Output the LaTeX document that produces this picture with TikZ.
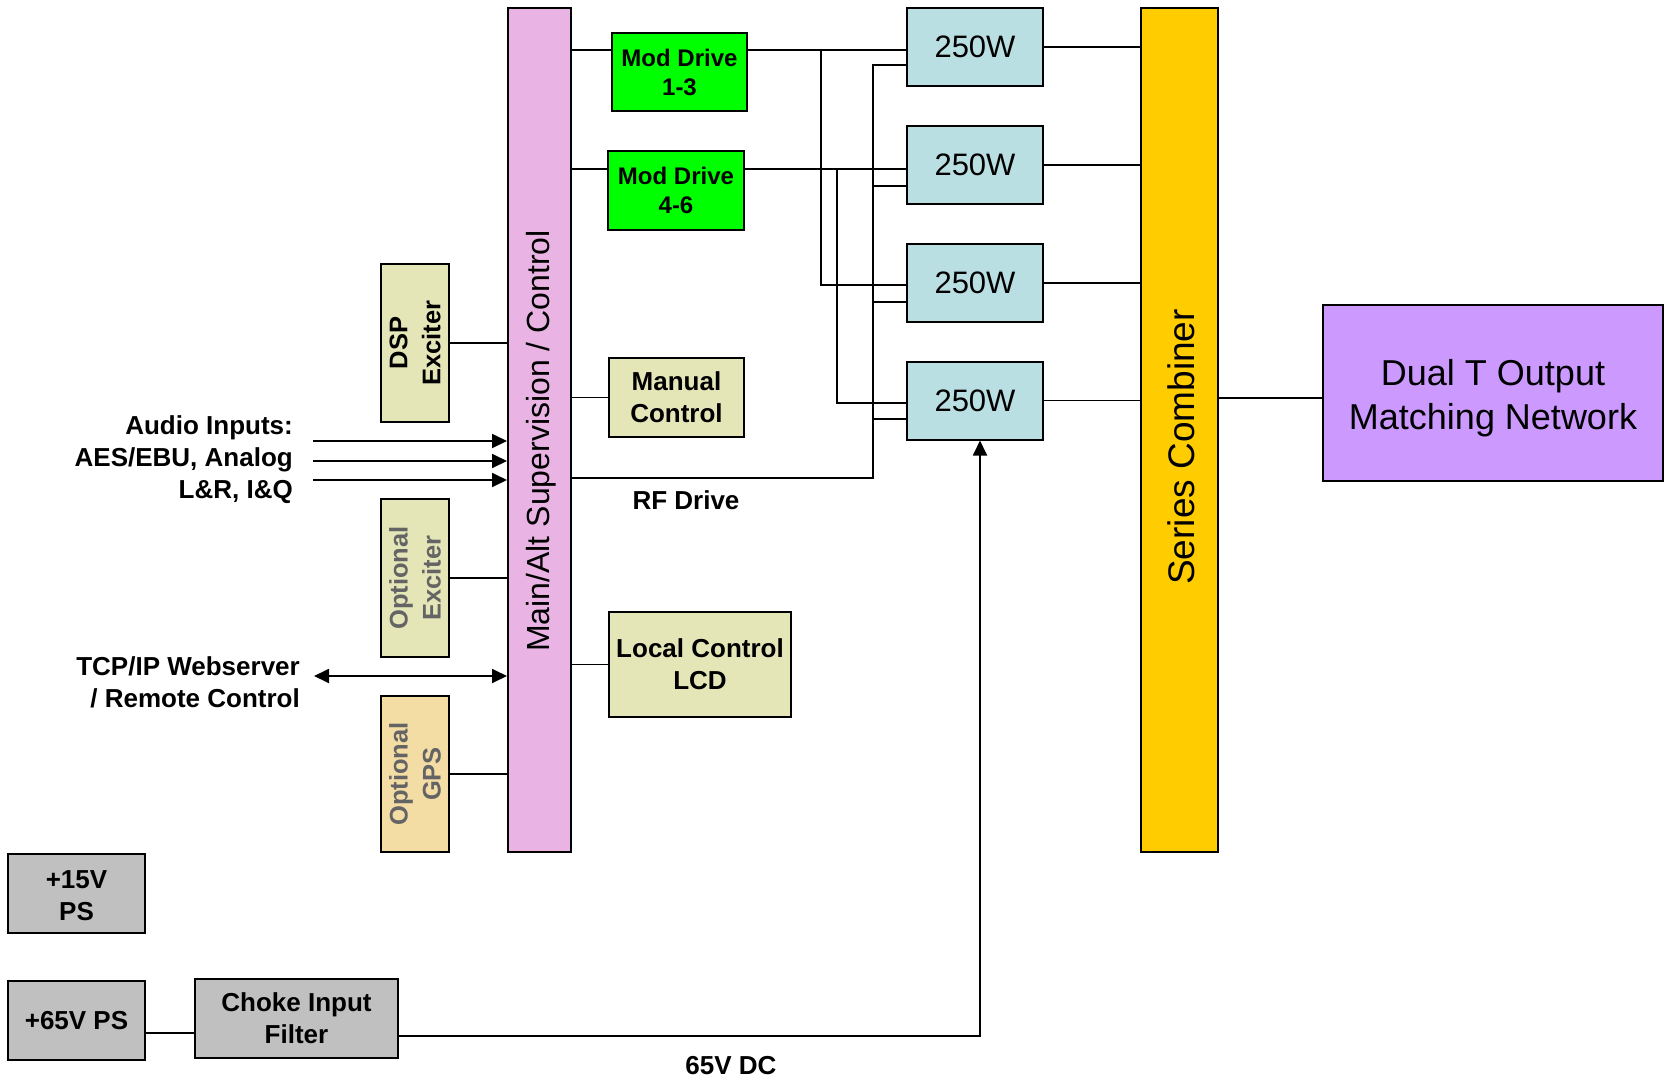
\documentclass[tikz,border=0pt]{standalone}
\usepackage{fontspec}
\setmainfont{Liberation Sans}
\usetikzlibrary{arrows.meta}
\definecolor{pinkbar}{RGB}{233,180,228}
\definecolor{khaki}{RGB}{229,230,183}
\definecolor{gpsfill}{RGB}{243,221,165}
\definecolor{pafill}{RGB}{186,223,226}
\definecolor{combfill}{RGB}{255,204,0}
\definecolor{dualfill}{RGB}{204,153,255}
\definecolor{psfill}{RGB}{192,192,192}
\definecolor{modgreen}{RGB}{0,255,0}
\definecolor{optgray}{RGB}{100,100,100}
\begin{document}
\begin{tikzpicture}[x=1pt,y=-1pt,
  box/.style={draw=black, line width=2pt, inner sep=0pt, align=center},
  bfont/.style={font=\bfseries\fontsize{26}{32}\selectfont},
  lbl/.style={inner sep=0pt, align=center, font=\bfseries\fontsize{26}{32}\selectfont},
  wire/.style={line width=1.8pt},
  tip/.style={-{Triangle[length=15pt,width=14pt]}},
  tipboth/.style={{Triangle[length=15pt,width=14pt]}-{Triangle[length=15pt,width=14pt]}},
]
\useasboundingbox (0,0) rectangle (1665,1081);

% main control bar
\node[box, fill=pinkbar, minimum width=63pt, minimum height=844pt] (ctrl) at (539.5,430) {};
\node[rotate=90, inner sep=0pt, font=\fontsize{32}{38}\selectfont] (ctrltxt) at (541.5,441) {Main/Alt Supervision / Control};

% combiner
\node[box, fill=combfill, minimum width=77pt, minimum height=844pt] (comb) at (1179.5,430) {};
\node[rotate=90, inner sep=0pt, font=\fontsize{37}{44}\selectfont] (combtxt) at (1181,447) {Series Combiner};

% output network
\node[box, fill=dualfill, minimum width=340pt, minimum height=176pt] (dualT) at (1493,393) {};
\node[align=center, inner sep=0pt, font=\fontsize{36}{44.5}\selectfont] (dualTtxt) at (1493,398) {Dual T Output\\Matching Network};

% mod drives
\node[box, fill=modgreen, minimum width=135pt, minimum height=78pt, font=\bfseries\fontsize{24}{29}\selectfont] (md13) at (679.5,72) {Mod Drive\\1-3};
\node[box, fill=modgreen, minimum width=136pt, minimum height=79pt, font=\bfseries\fontsize{24}{29}\selectfont] (md46) at (676,190.5) {Mod Drive\\4-6};

% controls
\node[box, bfont, fill=khaki, minimum width=135pt, minimum height=79pt] (manual) at (676.5,397.5) {Manual\\Control};
\node[box, bfont, fill=khaki, minimum width=182pt, minimum height=105pt] (local) at (700,664.5) {Local Control\\LCD};

% left side boxes
\node[box, fill=khaki, minimum width=68pt, minimum height=158pt] (dsp) at (415,343) {};
\node[rotate=90, align=center, inner sep=0pt, font=\bfseries\fontsize{25.5}{33}\selectfont] (dsptxt) at (dsp.center) {DSP\\Exciter};
\node[box, fill=khaki, minimum width=68pt, minimum height=158pt] (optexc) at (415,578) {};
\node[rotate=90, align=center, inner sep=0pt, text=optgray, font=\bfseries\fontsize{25.5}{33}\selectfont] (optexctxt) at (optexc.center) {Optional\\Exciter};
\node[box, fill=gpsfill, minimum width=68pt, minimum height=156pt] (gps) at (415,774) {};
\node[rotate=90, align=center, inner sep=0pt, text=optgray, font=\bfseries\fontsize{25.5}{33}\selectfont] (gpstxt) at (gps.center) {Optional\\GPS};

% power amplifiers
\foreach \i/\y in {1/47,2/165,3/283,4/400.5}{
  \node[box, fill=pafill, minimum width=136pt, minimum height=78pt, font=\fontsize{31}{36}\selectfont] (pa\i) at (975,\y) {250W};
}

% power supplies
\node[box, fill=psfill, minimum width=137pt, minimum height=79pt] (ps15) at (76.5,893.5) {};
\node[bfont, align=center, inner sep=0pt] (ps15txt) at (76.5,895.5) {+15V\\PS};
\node[box, bfont, fill=psfill, minimum width=137pt, minimum height=79pt] (ps65) at (76.5,1020.5) {+65V PS};
\node[box, bfont, fill=psfill, minimum width=203pt, minimum height=79pt] (choke) at (296.5,1018.5) {Choke Input\\Filter};

% labels
\node[lbl, anchor=east, align=right] (audio) at (293,460) {Audio Inputs:\\AES/EBU, Analog\\L\&R, I\&Q};
\node[lbl, anchor=east, align=right] (tcp) at (300,682) {TCP/IP Webserver\\/ Remote Control};
\node[lbl] (rflbl) at (686,500) {RF Drive};
\node[lbl] (dclbl) at (731,1066) {65V DC};

% side connections
\draw[wire] (dsp.east) -- (dsp.east -| ctrl.west);
\draw[wire] (optexc.east) -- (optexc.east -| ctrl.west);
\draw[wire] (gps.east) -- (gps.east -| ctrl.west);
\coordinate (au1) at (313,441);
\coordinate (au2) at (313,461);
\coordinate (au3) at (313,480);
\coordinate (tcpend) at (314,676);
\draw[wire,tip] (au1) -- (au1 -| ctrl.west);
\draw[wire,tip] (au2) -- (au2 -| ctrl.west);
\draw[wire,tip] (au3) -- (au3 -| ctrl.west);
\draw[wire,tipboth] (tcpend) -- (tcpend -| ctrl.west);

% control to blocks
\draw[wire] (ctrl.east |- 0,50) -- (md13.west |- 0,50);
\draw[wire] (ctrl.east |- 0,169) -- (md46.west |- 0,169);
\draw[wire] (ctrl.east |- manual) -- (manual.west);
\draw[wire] (local.west) -- (local.west -| ctrl.east);

% mod drive distribution
\draw[wire] (md13.east |- 0,50) -- (pa1.west |- 0,50);
\draw[wire] (md46.east |- 0,169) -- (pa2.west |- 0,169);
\coordinate (j1) at (821,50);
\coordinate (j2) at (837,169);
\draw[wire] (j1) |- (pa3.west |- 0,285);
\draw[wire] (j2) |- (pa4.west |- 0,403);

% RF drive
\coordinate (rf) at (873,478);
\coordinate (rftop) at (873,65);
\draw[wire] (ctrl.east |- rf) -- (rf) -- (rftop) -- (pa1.west |- rftop);
\draw[wire] (873,186) -- (pa2.west |- 0,186);
\draw[wire] (873,302) -- (pa3.west |- 0,302);
\draw[wire] (873,419) -- (pa4.west |- 0,419);

% amplifiers to combiner
\foreach \i in {1,2,3,4}{
  \draw[wire] (pa\i.east) -- (pa\i.east -| comb.west);
}
\draw[wire] (comb.east |- 0,398) -- (dualT.west |- 0,398);

% power
\draw[wire] (ps65.east |- 0,1033) -- (choke.west |- 0,1033);
\coordinate (dc) at (980,1036);
\draw[wire,tip] (choke.east |- dc) -- (dc) -- (dc |- pa4.south);
\end{tikzpicture}
\end{document}
